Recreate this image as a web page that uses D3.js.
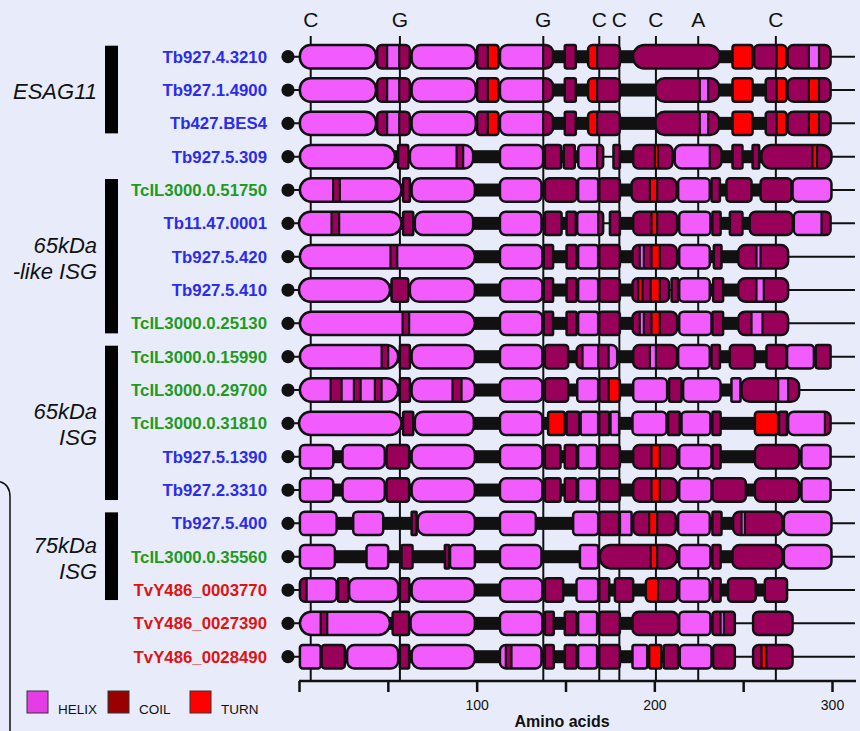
<!DOCTYPE html>
<html><head><meta charset="utf-8">
<script src="https://cdn.jsdelivr.net/npm/d3@7"></script>
<style>html,body{margin:0;padding:0;background:#e8ecfa;} svg{display:block;}</style>
</head><body>
<svg id="c" width="860" height="731"></svg>
<script>
// ---------- DATA ----------
const motifLetters = ["C","G","G","C","C","C","A","C"];
const motifPositions = [6.6,56.8,137.5,169,180.3,200.9,224.7,268.4];

const proteins = ["Tb927.4.3210","Tb927.1.4900","Tb427.BES4","Tb927.5.309","TcIL3000.0.51750",
  "Tb11.47.0001","Tb927.5.420","Tb927.5.410","TcIL3000.0.25130","TcIL3000.0.15990",
  "TcIL3000.0.29700","TcIL3000.0.31810","Tb927.5.1390","Tb927.2.3310","Tb927.5.400",
  "TcIL3000.0.35560","TvY486_0003770","TvY486_0027390","TvY486_0028490"];
const species = ["Tb","Tb","Tb","Tb","Tc","Tb","Tb","Tb","Tc","Tc","Tc","Tc","Tb","Tb","Tb","Tc","Tv","Tv","Tv"];

const familyLabels = [["ESAG11"],["65kDa","-like ISG"],["65kDa","ISG"],["75kDa","ISG"]];
const familyRows = [[0,2],[4,8],[9,13],[14,16]];

const axisTicks = [0,50,100,150,200,250,300];
const axisLabels = [100,200,300];
const axisTitle = "Amino acids";
const legendItems = ["HELIX","COIL","TURN"];

// each track: groups of contiguous segments [start, type, end, type, end, ...]; "thin" = thin line gap
const tracks = [
 [[0.5,"H",43.3],[44,"C",49.6,"H",56.4,"C",62.4],[63.4,"H",99.5],[100.3,"C",106.3,"T",112.3],[113.1,"H",137.4,"C",143],[149.6,"C",155.8],[162.7,"T",167.8,"C",180.6],[188,"C",237],[244,"T",255.3],[256.2,"C",268.8,"T",274.4],[275,"C",287,"H",292.7,"C",299.2]],
 [[0.5,"H",43.3],[44,"C",49.6,"H",56.4,"C",62.4],[63.4,"H",99.5],[100.3,"C",106.3,"T",112.3],[113.1,"H",137.4,"C",143],[149.6,"C",155.8],[162.7,"T",167.8,"C",180.6],[200.7,"C",225.6,"H",230.3,"C",236.5],[244,"T",255.3],[262.7,"C",268.8,"T",274.4],[275,"C",287,"T",292.7,"C",299.2]],
 [[0.5,"H",43.3],[44,"C",49.6,"H",56.4,"C",62.4],[63.4,"H",99.5],[100.3,"C",106.3,"T",112.3],[113.1,"H",137.4,"C",143],[149.6,"C",155.8],[162.7,"T",167.8,"C",180.6],[200.7,"C",225.6,"H",230.3,"C",236.5],[244,"T",255.3],[262.7,"C",268.8,"T",274.4],[275,"C",287,"T",292.7,"C",299.2]],
 [[0.5,"H",54],[55.8,"C",61.5],[62.4,"H",88.7,"C",92.4,"H",98],[113.1,"H",137.4],[138.4,"C",147.5],[149,"C",155.2],[157.2,"H",167.8,"C",171.2],"thin",[177,"C",180.6],[188.1,"C",200.3,"T",202.1,"C",210.2],[211.5,"H",231.2,"C",237.8],[244,"C",249.6],[255.3,"C",259],[260.3,"C",289,"T",291.6,"C",299.7]],
 [[0.5,"H",19.2,"C",23,"H",57.7],[58.6,"C",62.4],[63.4,"H",99],[113.1,"H",136.5],[138.4,"C",156.2],[157.1,"H",168.4],[169,"C",180.6],[187.2,"C",197.5,"T",201.6,"C",212.5],[213.4,"H",231.2],[232.2,"C",236.9],[240.6,"C",254.7],[259.8,"C",277.2],[277.8,"H",299.7]],
 [[0,"H",18.3,"C",22.6,"H",57.7],[58.6,"C",64.3],[65.2,"H",98],[113.1,"H",136.5],[138.4,"C",147.8],[150.6,"C",155.8],[156.6,"H",168.4,"C",171.2],"thin",[175,"C",180.6],[188.1,"C",198.4,"T",201.6,"C",212.8],[214,"H",231.6],[232.7,"C",237.3],[242.5,"C",249.6],[253.7,"C",277.8],[278.5,"H",294.1,"C",299.2]],
 [[0.5,"H",51.5,"C",55.3,"H",99],[113.1,"H",137],[137.8,"C",143],[150.6,"C",156.2],[157.1,"H",168.4],[169,"C",180.6],[187.7,"C",191.8,"H",194.1,"C",198.4,"T",203.1,"C",212.8],[214,"H",231.2],[233.5,"C",237.8],[247.2,"C",257.5,"H",259.8,"C",275.3]],
 [[0,"H",51.2],[52.1,"C",61.5],[62.4,"H",99],[113.1,"H",137],[137.8,"C",143],[150.6,"C",156.2],[157.1,"H",168.4],[169,"C",180.6],[187.7,"C",190.9,"T",193.4,"C",197.9,"T",203.1,"C",208.3],"thin",[209.7,"C",213.4],[214,"H",231.2],[233.1,"C",238.7],[247.2,"C",257.5,"H",261.6,"C",275.3]],
 [[0.5,"H",58.3,"C",62,"H",99],[113.1,"H",137],[137.8,"C",143],[150.6,"C",156.2],[157.1,"H",168.4],[169,"C",180.6],[187.7,"C",191.8,"H",194.1,"C",198.4,"T",203.1,"C",212.8],[214,"H",232.2],[232.7,"C",238.7],[247.2,"C",254.7,"H",260.9,"C",275.3]],
 [[0.5,"H",46.5,"C",50.2,"H",55.8],[56.8,"C",62.4],[63.4,"H",99],[113.1,"H",137],[138.4,"C",151.5],[156.2,"C",159.6,"H",168.4,"C",174.3,"H",179.1],[188.1,"C",197.5,"H",200.9,"C",212.8],[213.4,"H",231.2],[232.2,"C",236.9],[242.5,"C",256.6],[263.1,"C",274.4],[274.7,"H",289.8],[290.9,"C",299.2]],
 [[0.5,"H",17.8,"C",24,"H",30.9,"C",34.7,"H",42.7,"C",46.5,"H",55.8],[56.8,"C",62.4],[63.4,"H",86.4,"C",91.5,"H",99],[113.1,"H",137],[138.4,"C",151.5],[156.6,"H",168.4],[169,"C",174.3,"T",180.6],[188.1,"H",207.2],[208.3,"C",215.3],[216.2,"H",237.3],[243.4,"H",248.5],[249.1,"C",269.7,"H",275.3,"C",281.5]],
 [[0,"H",57.7],[58.6,"C",64.3],[65.2,"H",98.4],[113.1,"H",137],[140.2,"T",149.6],[150.6,"C",157.7],[158.5,"H",168.4],[169,"C",174.6],[175.3,"H",180.2],[187.7,"H",206.9],[207.8,"C",214.3],[215.3,"H",231.6],[232.7,"C",237.3],[256.6,"T",269.7],[270.2,"C",274.7],[275.3,"H",296,"C",299.2]],
 [[0.5,"H",19.3],[24.5,"H",48.3],[49.3,"C",62],[63.4,"H",99],[113.1,"H",137],[138.4,"C",147.2],[149.6,"C",156.2],[157.1,"H",167.8],[169,"C",180.6],[188.1,"C",198.4,"T",203.1,"C",212.8],[214,"H",232.2],[232.7,"C",237.3],[256.6,"C",281.5],[282.8,"H",299.2]],
 [[0.5,"H",19.3],[24.5,"H",48.3],[49.3,"C",62],[63.4,"H",99],[113.1,"H",137],[138.4,"C",147.2],[149.6,"C",156.2],[157.1,"H",167.8],[169,"C",180.6],[188.1,"C",198.4,"T",203.1,"C",212.8],[214,"H",232.2],[232.7,"C",251.5],[256.6,"C",281.5],[282.8,"H",299.2]],
 [[0.5,"H",21.2],[30.5,"H",47.4],[63.4,"C",66.2],[66.8,"H",99],[113.1,"H",133.3],[154.3,"H",168.4],[169,"C",180.2],[180.6,"H",187.2],[188.1,"C",197.1,"T",201.6,"C",212.1],[213.4,"H",231.2],[232.7,"C",237.8],[244.3,"C",249.1,"H",251,"C",272.1],[272.9,"H",299.7]],
 [[0.5,"H",20.2],[38,"H",50.2],[57.7,"C",63.9],[82.1,"C",84.5],[85,"H",99],[113.1,"H",136.5],[158.1,"H",168.4],[169.3,"C",197.9,"T",201.6,"C",212.8],[214,"H",231.6],[232.7,"C",237.3],[244,"C",272.1],[272.9,"H",299.7]],
 [[0.5,"C",4.3,"H",21.2],[22,"C",27.7],[28.2,"H",55.8],[56.8,"C",62],[63.4,"H",99],[113.1,"H",137],[138.4,"C",148.7],[156.2,"H",168.4],[169,"C",174.6],[177.8,"C",188.1],[195.2,"T",202.1,"C",212.8],[214,"H",231.2],[232.7,"C",237.3],[241.5,"C",257.1],[262.2,"C",274.7]],
 [[0.5,"H",12.2,"C",15.9,"H",51.2],[52.7,"C",62],[62.8,"H",99],[113.1,"H",137],[138.4,"C",143.4],[149.6,"C",156.2],[157.1,"H",167.8],[169,"C",180.6],[187.7,"C",213.4],[214,"H",231.6],[232.7,"C",237.3,"H",239.2,"C",245.3],"thin",[255.6,"C",277.8]],
 [[0.5,"H",12.2],[12.7,"C",25.8],[27.1,"H",55.8],[56.8,"C",62],[63.4,"H",99],[113.1,"H",116.4,"C",119.6,"H",136.5],[138.4,"C",143.4],[149.6,"C",156.2],[157.1,"H",167.8],[169,"C",180.6],[187.7,"H",196],[197.1,"T",204],[205.3,"C",213.4],[214.3,"H",232.2],[233.1,"C",245.3],"thin",[255.6,"C",260.3,"T",263.1,"C",277.8]]
];

// ---------- STYLE ----------
const FONT = "'Liberation Sans', Arial, Helvetica, sans-serif";
const segFill = {H:"#f25cff", C:"#990059", T:"#ff0000"};
const legendFill = {HELIX:"#e63ce6", COIL:"#990000", TURN:"#ff0000"};
const speciesColor = {Tb:"#2b2bf0", Tc:"#1f9a1f", Tv:"#e01212"};

const svg = d3.select("#c");
svg.append("rect").attr("width",860).attr("height",731).attr("fill","#e8ecfa");

const x = d3.scaleLinear().domain([0,300]).range([299,832]);
const y = d3.scaleLinear().domain([0, proteins.length-1]).range([56.7, 656.7]);
const axisY = 681, boxH = 23.4, linkH = 13;

// motif lines and letters
const mot = svg.append("g");
mot.selectAll("line").data(motifPositions).join("line")
  .attr("x1",d=>x(d)).attr("x2",d=>x(d)).attr("y1",36).attr("y2",axisY)
  .attr("stroke","#111").attr("stroke-width",2);
mot.selectAll("text").data(motifLetters).join("text")
  .attr("x",(d,i)=>x(motifPositions[i])).attr("y",27).attr("text-anchor","middle")
  .attr("font-family",FONT).attr("font-size",21).attr("fill","#111").text(d=>d);

// axis
svg.append("line").attr("x1",x(0)).attr("x2",856).attr("y1",axisY).attr("y2",axisY)
  .attr("stroke","#111").attr("stroke-width",2.5);
const ax = svg.append("g").attr("transform",`translate(0,${axisY})`)
  .call(d3.axisBottom(x).tickValues(axisTicks).tickSize(11).tickPadding(8)
    .tickFormat(d => axisLabels.includes(d) ? d : ""));
ax.select(".domain").remove();
ax.selectAll(".tick line").attr("stroke","#111").attr("stroke-width",2.5);
ax.selectAll(".tick text").attr("font-family",FONT).attr("font-size",14).attr("fill","#111");
svg.append("text").attr("x",562).attr("y",727).attr("text-anchor","middle")
  .attr("font-family",FONT).attr("font-size",16).attr("font-weight","bold").attr("fill","#111").text(axisTitle);

// rows
const defs = svg.append("defs");
let clipId = 0;
tracks.forEach((track, ri) => {
  const cy = y(ri);
  const row = svg.append("g");
  row.append("line").attr("x1",288).attr("x2",855).attr("y1",cy).attr("y2",cy)
    .attr("stroke","#111").attr("stroke-width",2);
  const groups = [];
  let thinNext = false;
  track.forEach(item => {
    if (item === "thin") { thinNext = true; return; }
    const segs = [];
    for (let k = 1; k < item.length; k += 2) segs.push({s:item[k-1], t:item[k], e:item[k+1]});
    groups.push({start:item[0], end:item[item.length-1], segs, thinBefore:thinNext});
    thinNext = false;
  });
  for (let g = 1; g < groups.length; g++) {
    if (groups[g].thinBefore) continue;
    const a = x(groups[g-1].end), b = x(groups[g].start);
    if (b > a) row.append("rect").attr("x",a-1).attr("y",cy-linkH/2).attr("width",b-a+2).attr("height",linkH).attr("fill","#111");
  }
  row.append("circle").attr("cx",288).attr("cy",cy).attr("r",6.6).attr("fill","#111");
  groups.forEach(g => {
    const x0 = x(g.start), x1 = x(g.end), w = x1 - x0;
    const r = Math.min(11.5, w*0.14);
    const id = "cl" + (clipId++);
    defs.append("clipPath").attr("id",id).append("rect")
      .attr("x",x0).attr("y",cy-boxH/2).attr("width",w).attr("height",boxH).attr("rx",r).attr("ry",r);
    const gg = row.append("g");
    const inner = gg.append("g").attr("clip-path",`url(#${id})`);
    inner.selectAll("rect").data(g.segs).join("rect")
      .attr("x",d=>x(d.s)).attr("y",cy-boxH/2).attr("width",d=>x(d.e)-x(d.s)).attr("height",boxH)
      .attr("fill",d=>segFill[d.t]);
    inner.selectAll("line").data(g.segs.slice(1)).join("line")
      .attr("x1",d=>x(d.s)).attr("x2",d=>x(d.s)).attr("y1",cy-boxH/2).attr("y2",cy+boxH/2)
      .attr("stroke","#111").attr("stroke-width",2.2);
    gg.append("rect").attr("x",x0).attr("y",cy-boxH/2).attr("width",w).attr("height",boxH)
      .attr("rx",r).attr("ry",r).attr("fill","none").attr("stroke","#111").attr("stroke-width",2.5);
  });
  svg.append("text").attr("x",267).attr("y",cy+6).attr("text-anchor","end")
    .attr("font-family",FONT).attr("font-weight","bold").attr("font-size",16.8)
    .attr("fill",speciesColor[species[ri]]).text(proteins[ri]);
});

// family brackets
familyRows.forEach((fr, i) => {
  const top = y(fr[0]) - 11, bot = y(fr[1]) + 10;
  svg.append("rect").attr("x",105).attr("y",top).attr("width",13).attr("height",bot-top).attr("fill","#000");
  const mid = (y(fr[0]) + y(fr[1]))/2;
  const lines = familyLabels[i];
  lines.forEach((t, k) => {
    const by = lines.length === 1 ? mid + 9 : mid - 4 + k*26;
    svg.append("text").attr("x",97).attr("y",by).attr("text-anchor","end")
      .attr("font-family",FONT).attr("font-style","italic").attr("font-size",22).attr("fill","#111").text(t);
  });
});

// legend frame (partially visible)
svg.append("path").attr("d","M-20,481 L-6,481 Q10,481 10,497 L10,740")
  .attr("fill","none").attr("stroke","#111").attr("stroke-width",1.5);

// legend
const legX = [27, 108, 190];
legendItems.forEach((name, i) => {
  svg.append("rect").attr("x",legX[i]).attr("y",691).attr("width",21).attr("height",22)
    .attr("fill",legendFill[name]).attr("stroke","#333").attr("stroke-width",1);
  svg.append("text").attr("x",legX[i]+31).attr("y",714)
    .attr("font-family",FONT).attr("font-size",13.5).attr("fill","#111").text(name);
});
</script>
</body></html>
